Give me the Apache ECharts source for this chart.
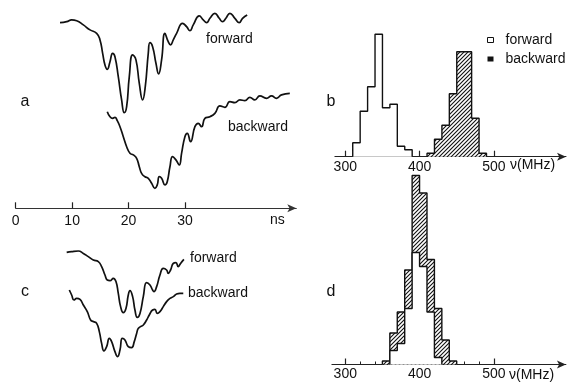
<!DOCTYPE html>
<html>
<head>
<meta charset="utf-8">
<script src="https://cdn.jsdelivr.net/npm/echarts@6/dist/echarts.min.js"></script>
<style>
html,body{margin:0;padding:0;background:#fff;}
#c{width:567px;height:383px;}
</style>
</head>
<body>
<div id="c"></div>
<script>
// ---------- Data ----------
// Panel a: pulse shapes, time (ns) vs amplitude (arb. units)
const aForwardTime = [7.85,9.03,9.91,10.8,11.98,13.16,14.34,14.93,15.4,15.81,16.22,16.7,17.17,17.58,18.17,18.76,19.23,19.65,20.12,20.71,21.3,21.89,22.48,22.95,23.48,23.78,24.25,24.84,25.31,25.84,26.43,27.02,27.43,27.91,28.5,29.56,30.27,30.86,31.45,32.51,33.22,33.81,34.4,35.28,36.05,36.64,37.23,37.94,38.82,39.59,40.18,41.0];
const aForwardAmp  = [92.8,93.3,94.2,93.8,91.7,89.2,87.5,84.2,77.5,71.7,69.5,73.3,77.5,75.8,65.8,54.2,47.8,50.8,65.8,76.7,74.2,62.5,54.2,60.8,77.5,82.8,80.8,72.5,67.2,74.2,87.5,83.3,81.7,84.2,87.5,92.5,90.8,88.8,91.7,96.2,94.2,92.8,95.0,97.5,95.0,93.3,95.0,97.5,95.0,92.8,95.0,96.7];
const aBackwardTime = [16.22,16.7,17.17,17.58,17.99,18.47,19.06,19.65,20.24,20.83,21.42,21.89,22.3,22.89,23.48,24.07,24.66,25.07,25.43,25.84,26.43,26.84,27.32,27.79,28.38,28.97,29.38,29.97,30.38,30.97,31.74,32.33,32.92,33.51,34.4,35.28,36.17,37.05,37.94,38.82,39.71,40.59,41.47,42.36,43.24,44.42,45.31,46.19,47.08,48.55];
const aBackwardAmp  = [48.3,45.8,45.0,45.5,43.8,40.8,35.8,30.8,27.5,26.7,25.0,20.8,17.5,15.8,15.0,12.5,10.0,11.7,15.8,15.0,11.7,13.3,20.8,25.8,24.2,21.7,27.5,35.8,37.5,33.3,40.8,42.5,40.8,45.0,45.8,47.5,51.2,50.5,53.3,52.8,54.2,53.8,55.5,54.2,56.2,55.0,56.2,55.0,56.7,57.5];

// Panel c: pulse shapes
const cForwardTime = [9.03,9.91,11.09,11.98,12.86,13.75,14.63,15.22,15.81,16.22,16.7,17.29,17.76,18.17,18.58,19.06,19.53,19.94,20.24,20.71,21.12,21.53,22.01,22.6,23.19,23.78,24.25,24.48,24.96,25.55,26.14,26.73,27.02,27.43,27.91,28.38,28.79,29.2,29.79];
const cForwardAmp  = [58.8,59.2,59.5,58.3,56.7,55.0,54.2,51.7,47.5,45.0,44.7,45.8,44.2,38.3,31.7,28.7,30.8,37.5,39.7,36.7,30.0,26.3,28.3,36.7,43.7,42.5,40.0,39.2,41.7,47.5,50.8,50.0,48.3,50.0,53.3,53.7,51.7,53.3,55.3];
const cBackwardTime = [9.5,9.91,10.32,10.8,11.39,11.98,12.68,13.27,13.75,14.34,14.81,15.22,15.63,16.11,16.58,16.99,17.58,18.05,18.47,18.88,19.35,19.94,20.53,21.0,21.42,21.71,22.12,22.6,23.19,23.66,24.25,24.66,25.07,25.55,26.14,26.73,27.32,27.91,28.5,29.09,29.68];
const cBackwardAmp  = [40.0,37.5,35.0,35.8,35.3,32.5,29.2,25.0,24.2,23.3,19.2,13.3,9.5,11.7,15.8,14.2,9.2,6.7,10.0,15.8,15.0,11.7,11.2,14.2,18.3,20.8,21.7,22.5,25.0,27.5,30.0,30.3,28.3,29.2,31.7,34.2,35.8,36.7,38.0,38.3,38.3];

// Panel b: frequency histograms (10 MHz bins), counts
const binWidth = 10;
const bForwardStart = 310;
const bForwardCounts = [4,13,20,35,14,15,3,2];
const bBackwardStart = 410;
const bBackwardCounts = [1,5,9,18,30,30,11,1];

// Panel d: histograms (backward stacked on forward)
const dForwardStart = 360;
const dForwardCounts = [4,6,16,32,28,15,2];
const dBackwardStart = 350;
const dBackwardCounts = [1,5,9,11,22,21,15,14,7,1];

// Tick labels
const timeTicks = [0,10,20,30];
const freqMinorTicks = [300,320,340,360,380,400,420,440,460,480,500];
const freqMajorTicks = [300,400,500];

// ---------- Helpers ----------
function zip(xs, ys){ return xs.map((x,i)=>[x, ys[i]]); }
function stepPoints(start, counts){
  const pts = [[start,0]];
  counts.forEach((c,i)=>pts.push([start+i*binWidth, c]));
  pts.push([start+counts.length*binWidth, 0]);
  return pts;
}
const dTotalCounts = dBackwardCounts.map((b,i)=>{
  const x = dBackwardStart + i*binWidth;
  const fi = (x - dForwardStart)/binWidth;
  return b + (fi>=0 && fi<dForwardCounts.length ? dForwardCounts[fi] : 0);
});

// hatch pattern
const hatch = document.createElement('canvas');
hatch.width = 4; hatch.height = 4;
(function(){
  const g = hatch.getContext('2d');
  g.fillStyle = '#fff'; g.fillRect(0,0,4,4);
  g.strokeStyle = '#111'; g.lineWidth = 1.1;
  g.beginPath();
  g.moveTo(0,4); g.lineTo(4,0);
  g.moveTo(-1,1); g.lineTo(1,-1);
  g.moveTo(3,5); g.lineTo(5,3);
  g.stroke();
})();

const FONT = '"Liberation Sans",Arial,sans-serif';
const INK = '#111';

function txt(text, x, y, size, align){
  return {type:'text', x:x, y:y, z:100,
    style:{text:text, fontSize:size, fontFamily:FONT, fill:INK, align:align||'left', verticalAlign:'middle'}};
}

const traceStyle = {type:'line', symbol:'none', smooth:0.5,
  lineStyle:{color:INK, width:1.7}, silent:true, animation:false};

function histSeries(name, xi, yi, pts, fill, z){
  return {name:name, type:'line', xAxisIndex:xi, yAxisIndex:yi, data:pts, step:'end',
    symbol:'none', z:z, animation:false, silent:true,
    lineStyle:{color:INK, width:1.4},
    areaStyle:{color:fill, opacity:1, origin:0}};
}

const hatchFill = {image: hatch, repeat:'repeat'};

function freqAxes(gi, min){
  return [
    {type:'value', gridIndex:gi, min:min, max:597, position:'bottom',
     axisLine:{show:true, onZero:false, lineStyle:{color:'#222', width:1}, symbol:['none','arrow'], symbolSize:[6,9]},
     axisTick:{show:true, inside:true, length:3, customValues:freqMinorTicks, lineStyle:{color:'#222', width:1}},
     axisLabel:{show:false}, splitLine:{show:false}},
    {type:'value', gridIndex:gi, min:min, max:597, position:'bottom',
     axisLine:{show:false, onZero:false},
     axisTick:{show:true, inside:true, length:6, customValues:freqMajorTicks, lineStyle:{color:'#222', width:1.2}},
     axisLabel:{show:true, customValues:freqMajorTicks, margin:3, fontSize:14, fontFamily:FONT, color:INK},
     splitLine:{show:false}}
  ];
}

const option = {
  backgroundColor:'#fff',
  animation:false,
  grid:[
    {left:15.7, top:0, width:280.6, height:208.3},
    {left:15.7, top:220, width:280.6, height:150},
    {left:334.9, top:16.7, width:231.1, height:140},
    {left:331.9, top:154.5, width:234.0, height:210}
  ],
  xAxis:[
    {type:'value', gridIndex:0, min:0, max:49.7,
     axisLine:{show:true, onZero:false, lineStyle:{color:'#333', width:1}, symbol:['none','arrow'], symbolSize:[6,9]},
     axisTick:{show:true, inside:true, length:6, customValues:timeTicks, lineStyle:{color:'#222', width:1.2}},
     axisLabel:{show:true, customValues:timeTicks, margin:6, fontSize:14, fontFamily:FONT, color:INK},
     splitLine:{show:false}},
    {type:'value', gridIndex:1, min:0, max:49.7, show:false},
    ...freqAxes(2, 286),
    ...freqAxes(3, 282)
  ],
  yAxis:[
    {type:'value', gridIndex:0, min:0, max:104.15, show:false},
    {type:'value', gridIndex:1, min:0, max:75, show:false},
    {type:'value', gridIndex:2, min:0, max:40, show:false},
    {type:'value', gridIndex:3, min:0, max:60, show:false}
  ],
  legend:{
    orient:'vertical', left:487, top:32, padding:0, itemGap:3,
    itemWidth:6, itemHeight:5, selectedMode:false,
    textStyle:{fontSize:14, fontFamily:FONT, color:INK, lineHeight:16, padding:[0,0,0,7]},
    data:[
      {name:'forward', icon:'rect', itemStyle:{color:'#fff', borderColor:INK, borderWidth:1}},
      {name:'backward', icon:'rect', itemStyle:{color:INK, borderWidth:0}}
    ]
  },
  graphic:[
    txt('a', 25, 102, 16, 'center'),
    txt('b', 331, 102, 16, 'center'),
    txt('c', 25, 292, 16, 'center'),
    txt('d', 331, 292, 16, 'center'),
    txt('forward', 206, 39, 14),
    txt('backward', 228, 127, 14),
    txt('forward', 190, 258, 14),
    txt('backward', 188, 293, 14),
    txt('ns', 270, 220, 14),
    txt('\u03bd(MHz)', 510, 165, 14),
    txt('\u03bd(MHz)', 509, 375, 14)
  ],
  series:[
    Object.assign({}, traceStyle, {name:'a forward trace', xAxisIndex:0, yAxisIndex:0, data:zip(aForwardTime, aForwardAmp)}),
    Object.assign({}, traceStyle, {name:'a backward trace', xAxisIndex:0, yAxisIndex:0, data:zip(aBackwardTime, aBackwardAmp)}),
    Object.assign({}, traceStyle, {name:'c forward trace', xAxisIndex:1, yAxisIndex:1, data:zip(cForwardTime, cForwardAmp)}),
    Object.assign({}, traceStyle, {name:'c backward trace', xAxisIndex:1, yAxisIndex:1, data:zip(cBackwardTime, cBackwardAmp)}),
    histSeries('forward', 2, 2, stepPoints(bForwardStart, bForwardCounts), '#fff', 3),
    histSeries('backward', 2, 2, stepPoints(bBackwardStart, bBackwardCounts), hatchFill, 3),
    histSeries('backward', 4, 3, stepPoints(dBackwardStart, dTotalCounts), hatchFill, 3),
    histSeries('forward', 4, 3, stepPoints(dForwardStart, dForwardCounts), '#fff', 4)
  ]
};

const chart = echarts.init(document.getElementById('c'), null, {renderer:'canvas'});
chart.setOption(option);
</script>
</body>
</html>
